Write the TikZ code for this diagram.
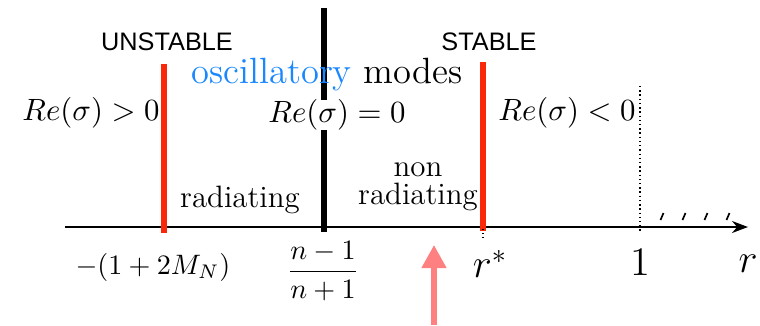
\documentclass[tikz,border=0pt]{standalone}
\usepackage{amsmath,amssymb}
\usepackage{fontspec}
\newfontfamily\capsans{Liberation Sans}
\usetikzlibrary{arrows.meta,positioning}
\definecolor{lred}{RGB}{250,40,10}
\definecolor{oscblue}{RGB}{25,135,255}
\definecolor{pinkarr}{RGB}{255,128,128}
\tikzset{
  sflab/.style={font=\capsans\fontsize{9}{11}\selectfont, inner sep=1pt},
  mlab/.style={font=\fontsize{11}{13}\selectfont, inner sep=1pt},
  biglab/.style={font=\fontsize{13}{15}\selectfont, inner sep=1pt},
  axlab/.style={font=\fontsize{10}{12}\selectfont, inner sep=1pt},
  ptlab/.style={font=\fontsize{14}{16}\selectfont, inner sep=1pt},
  redwall/.style={lred, line width=1.8pt},
  blkwall/.style={black, line width=1.8pt},
  axarr/.style={-{Stealth[length=2mm, width=1.5mm]}, line width=0.6pt},
  pinkup/.style={pinkarr, line width=1.8pt, -{Triangle[length=2.9mm, width=3mm]}},
}
\begin{document}
\begin{tikzpicture}[x=0.0125cm,y=-0.0125cm]
\useasboundingbox (0,0) rectangle (760,325);
% axis
\coordinate (ax0) at (65,227);
\coordinate (ax1) at (748,227);
\draw[axarr] (ax0) -- (ax1);
\foreach \hx in {662,684,706,728} \draw[line width=0.6pt] (\hx-1.5,220) -- (\hx+1.5,213);
% walls
\coordinate (w1t) at (164,64);  \coordinate (w1b) at (164,233);
\coordinate (w0t) at (324,8);   \coordinate (w0b) at (324,232);
\coordinate (w2t) at (483,62);  \coordinate (w2b) at (483,231);
\coordinate (d1t) at (640,86);  \coordinate (d1b) at (640,232);
\coordinate (d2t) at (483,229); \coordinate (d2b) at (483,238);
\draw[blkwall] (w0t) -- (w0b);
\draw[redwall] (w1t) -- (w1b);
\draw[redwall] (w2t) -- (w2b);
\draw[densely dotted, line width=0.5pt] (d1t) -- (d1b);
\draw[densely dotted, line width=0.4pt] (d2t) -- (d2b);
% top labels
\node[sflab] (unst) at (167,42) {UNSTABLE};
\node[sflab] (stab) at (489,42) {STABLE};
\node[biglab] (osc) at (327,75) {\textcolor{oscblue}{oscillatory} modes};
\node[mlab] (repos) at (91,113) {$Re(\sigma)>0$};
\node[mlab, fill=white, inner ysep=0pt] (rezero) at (337,115) {$Re(\sigma)=0$};
\node[mlab] (reneg) at (567,113) {$Re(\sigma)<0$};
% regions
\node[mlab] (rad) at (240,200) {radiating};
\node[mlab, align=center] (nonrad) at (418,187) {non\\[-3pt]radiating};
% ticks
\node[axlab] (lm) at (153,267) {$-(1+2M_N)$};
\node[axlab] (fr) at (323,271) {$\dfrac{n-1}{n+1}$};
\node[ptlab] (rs) at (490,264) {$r^*$};
\node[ptlab] (one) at (640,262) {$1$};
\node[ptlab] (rr) at (748,264) {$r$};
% marker
\coordinate (pk0) at (434,325);
\coordinate (pk1) at (434,245);
\draw[pinkup] (pk0) -- (pk1);
\end{tikzpicture}
\end{document}
